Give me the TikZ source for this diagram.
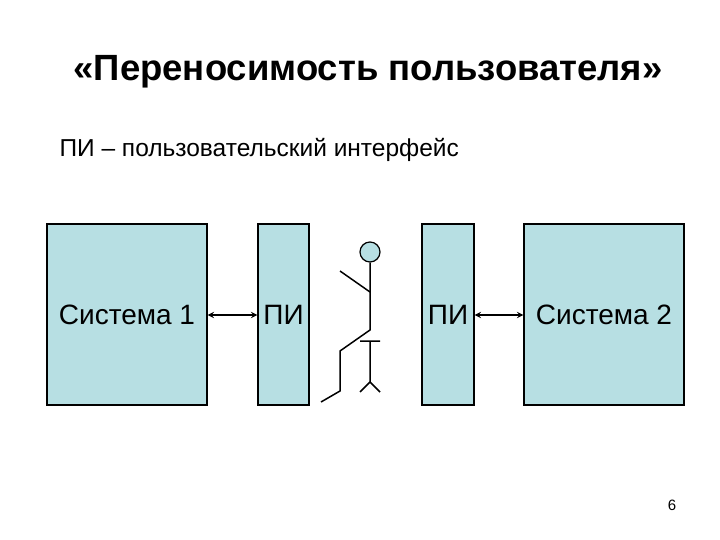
\documentclass[tikz,border=0pt]{standalone}
\usepackage{fontspec}
\setmainfont{Liberation Sans}
\begin{document}
\begin{tikzpicture}[x=1pt,y=-1pt,
  box/.style={draw,line width=1.2pt,fill=boxfill,inner sep=0pt},
  conn/.style={line width=1.8pt,<->,>=stealth},
  fig/.style={line width=1.5pt}]
\definecolor{boxfill}{RGB}{183,223,227}
\useasboundingbox (0,0) rectangle (720,540);
\node (title) at (368,72) {\fontsize{36.5}{40}\selectfont\bfseries «Переносимость пользователя»};
\node[anchor=west] (sub) at (56,150) {\fontsize{24.5}{28}\selectfont ПИ -- пользовательский интерфейс};
\node[box,minimum width=160pt,minimum height=181pt] (s1) at (127,314.5) {\fontsize{28}{32}\selectfont Система 1};
\node[box,minimum width=51pt,minimum height=181pt] (p1) at (283.5,314.5) {\fontsize{28}{32}\selectfont ПИ};
\node[box,minimum width=52pt,minimum height=181pt] (p2) at (448,314.5) {\fontsize{28}{32}\selectfont ПИ};
\node[box,minimum width=160pt,minimum height=181pt] (s2) at (604,314.5) {\fontsize{28}{32}\selectfont Система 2};
\draw[conn] (s1.east |- 0,315) -- (p1.west |- 0,315);
\draw[conn] (p2.east |- 0,315) -- (s2.west |- 0,315);
\node[draw,fill=boxfill,circle,line width=1.2pt,minimum size=20pt,inner sep=0pt] (head) at (370,252) {};
\draw[fig] (head.south) -- (370,330) -- (340,351) -- (340,391) -- (321,402);
\draw[fig] (370,292) -- (340,271);
\draw[fig] (360,341) -- (380,341) (370,341) -- (370,382) (360,392) -- (370,382) -- (380,392);
\node (num) at (672,505) {\fontsize{15}{18}\selectfont 6};
\end{tikzpicture}
\end{document}
